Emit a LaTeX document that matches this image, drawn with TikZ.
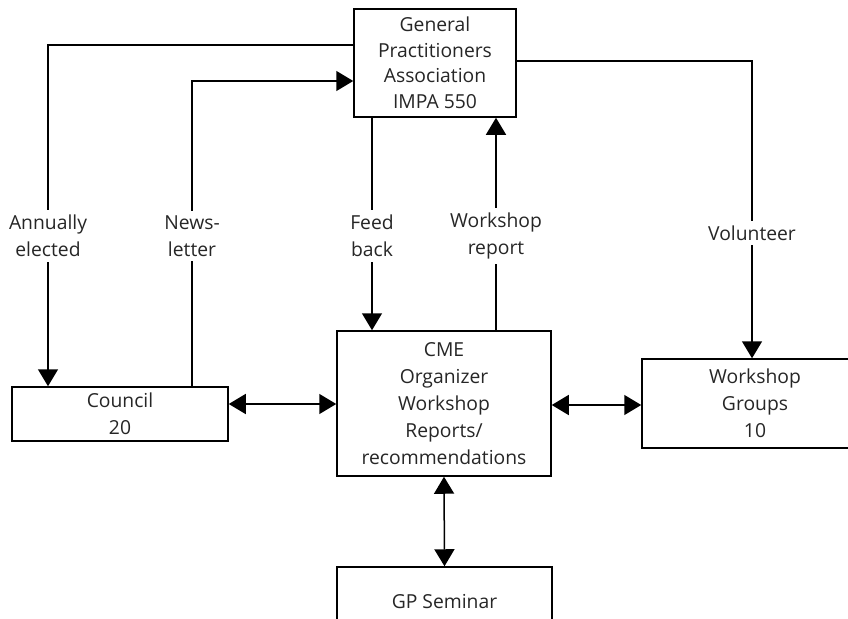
\documentclass[tikz,border=0pt]{standalone}
\usepackage{fontspec}
\setmainfont{Open Sans}
\usetikzlibrary{arrows.meta}
\tikzset{
  box/.style={draw, line width=1.5pt, rectangle, align=center, inner sep=0pt,
    font=\fontsize{19.3}{27}\selectfont, text=black!85},
  lbl/.style={fill=white, align=center, inner sep=3pt, inner ysep=5pt,
    font=\fontsize{19.3}{27}\selectfont, text=black!85},
  conn/.style={line width=1.5pt},
  arr/.style={conn, -{Triangle[length=17pt, width=20pt]}},
  darr/.style={conn, {Triangle[length=17pt, width=20pt]}-{Triangle[length=17pt, width=20pt]}},
}
\begin{document}
\begin{tikzpicture}[x=1pt, y=-1pt]
\clip (0,0) rectangle (848,618);
\fill[white] (0,0) rectangle (848,618);
% boxes
\node[box, minimum width=162pt, minimum height=108pt] (gpa) at (435,63)
  {General\\[-1.5pt]Practitioners\\[-1.5pt]Association\\[-1.5pt]IMPA 550};
\node[box, minimum width=214pt, minimum height=145pt] (cme) at (444,403.5)
  {CME\\Organizer\\Workshop\\Reports/\\recommendations};
\node[box, minimum width=216pt, minimum height=54pt] (council) at (120,414)
  {Council\\20};
\node[box, minimum width=226pt, minimum height=89pt] (wg) at (755,403.5)
  {Workshop\\Groups\\10};
\node[box, minimum width=215pt, minimum height=70pt] (gp) at (444.5,602)
  {GP Seminar};
% connectors
\draw[arr] ([yshift=18pt]gpa.west) -| ([xshift=-72pt]council.north);
\draw[arr] ([xshift=72pt]council.north) |- ([yshift=-18pt]gpa.west);
\draw[arr] ([xshift=-63pt]gpa.south) -- ([xshift=-72pt]cme.north);
\draw[arr] ([xshift=52pt]cme.north) -- ([xshift=61pt]gpa.south);
\draw[arr] ([yshift=2pt]gpa.east) -| ([xshift=-3pt]wg.north);
\draw[darr] ([yshift=10pt]council.east) -- ([yshift=10pt]council.east -| cme.west);
\draw[darr] ([yshift=-1.5pt]wg.west -| cme.east) -- ([yshift=-1.5pt]wg.west);
\draw[darr] (cme.south) -- (gp.north);
% labels
\node[lbl] (l1) at (48,236) {Annually\\elected};
\node[lbl] (l2) at (192,236) {News-\\letter};
\node[lbl] (l3) at (372,236) {Feed\\back};
\node[lbl] (l4) at (496,236) {Workshop\\report};
\node[lbl] (l5) at (752,233) {Volunteer};
\end{tikzpicture}
\end{document}
